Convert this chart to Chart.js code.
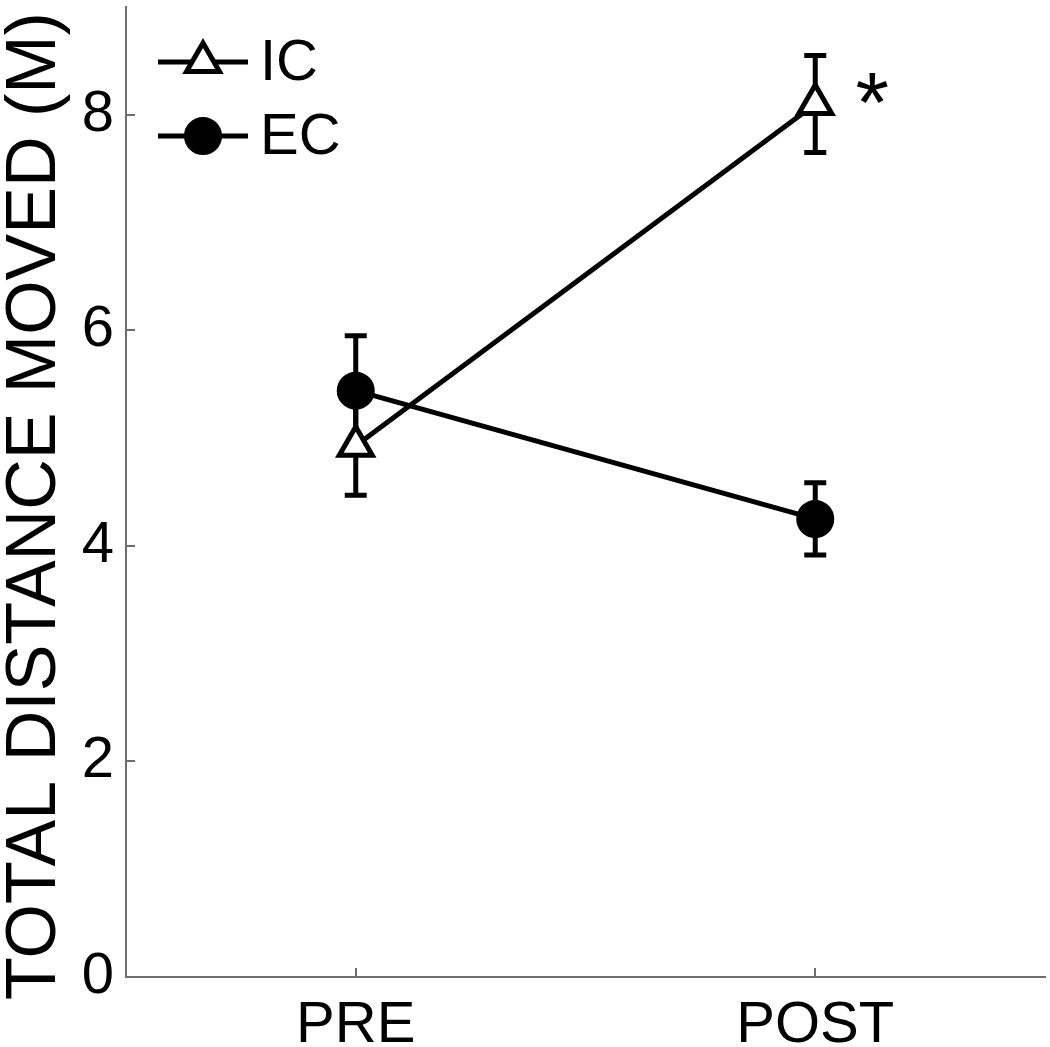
<!DOCTYPE html>
<html>
<head>
<meta charset="utf-8">
<script src="https://cdn.jsdelivr.net/npm/chart.js@4"></script>
<style>
  html, body { margin: 0; padding: 0; background: #fff; }
  canvas { display: block; }
</style>
</head>
<body>
<canvas id="chart" width="1050" height="1047"></canvas>
<script>
const phases = ['PRE', 'POST'];
const phaseX = [1, 2];
const icMeans = [4.93, 8.10];
const icErrors = [0.46, 0.45];
const ecMeans = [5.44, 4.25];
const ecErrors = [0.51, 0.335];
const yTicks = [0, 2, 4, 6, 8];
const seriesNames = ['IC', 'EC'];
const yTitle = 'TOTAL DISTANCE MOVED (M)';

const FONT = "'Liberation Sans', Arial, sans-serif";
const AXIS_GREY = '#6e6e6e';
const LW = 5;

const toPoints = (means) => means.map((m, i) => ({x: phaseX[i], y: m}));

// no label overhang padding, keep the plot box where the figure has it
const noPad = (scale) => {
  scale.paddingTop = 0; scale.paddingBottom = 0;
  scale.paddingLeft = 0; scale.paddingRight = 0;
};

const errorBars = {
  id: 'errorBars',
  beforeDatasetsDraw(chart) {
    const ctx = chart.ctx;
    const xs = chart.scales.x, ys = chart.scales.y;
    const groups = [[icMeans, icErrors], [ecMeans, ecErrors]];
    ctx.save();
    ctx.strokeStyle = '#000';
    ctx.lineWidth = LW;
    groups.forEach(([means, errs]) => {
      means.forEach((m, i) => {
        const px = xs.getPixelForValue(phaseX[i]);
        const top = ys.getPixelForValue(m + errs[i]);
        const bot = ys.getPixelForValue(m - errs[i]);
        ctx.beginPath();
        ctx.moveTo(px, top); ctx.lineTo(px, bot);
        ctx.moveTo(px - 11, top); ctx.lineTo(px + 11, top);
        ctx.moveTo(px - 11, bot); ctx.lineTo(px + 11, bot);
        ctx.stroke();
      });
    });
    ctx.restore();
  }
};

const extras = {
  id: 'extras',
  afterDraw(chart) {
    const ctx = chart.ctx;
    const xs = chart.scales.x, ys = chart.scales.y;
    const area = chart.chartArea;
    ctx.save();

    // inward tick marks
    ctx.strokeStyle = AXIS_GREY;
    ctx.lineWidth = 2;
    ctx.beginPath();
    yTicks.forEach(v => {
      if (v === 0) return;
      const py = Math.round(ys.getPixelForValue(v));
      ctx.moveTo(area.left, py); ctx.lineTo(area.left + 9, py);
    });
    phaseX.forEach(v => {
      const px = Math.round(xs.getPixelForValue(v));
      ctx.moveTo(px, area.bottom); ctx.lineTo(px, area.bottom - 9);
    });
    ctx.stroke();

    // y title
    ctx.save();
    ctx.translate(36, (area.top + area.bottom) / 2 + 14);
    ctx.rotate(-Math.PI / 2);
    ctx.fillStyle = '#000';
    ctx.font = `70px ${FONT}`;
    ctx.textAlign = 'center';
    ctx.textBaseline = 'middle';
    ctx.fillText(yTitle, 0, 0);
    ctx.restore();

    // legend: line - marker - line
    chart.data.datasets.forEach((ds, i) => {
      const ly = area.top + 55 + i * 74;
      const lx0 = area.left + 32, lx1 = area.left + 122;
      ctx.strokeStyle = '#000';
      ctx.lineWidth = LW;
      ctx.beginPath();
      ctx.moveTo(lx0, ly); ctx.lineTo(lx1, ly);
      ctx.stroke();
      ctx.fillStyle = ds.pointBackgroundColor;
      ctx.strokeStyle = '#000';
      ctx.lineWidth = ds.pointBorderWidth;
      Chart.helpers.drawPoint(ctx, {
        pointStyle: ds.pointStyle,
        radius: ds.pointRadius,
        rotation: 0,
        borderWidth: ds.pointBorderWidth
      }, (lx0 + lx1) / 2, ly);
      ctx.fillStyle = '#000';
      ctx.font = `58px ${FONT}`;
      ctx.textAlign = 'left';
      ctx.textBaseline = 'middle';
      ctx.fillText(seriesNames[i], lx1 + 12, ly + 2);
    });

    // significance marker next to IC POST
    const sx = xs.getPixelForValue(phaseX[1]) + 57;
    const sy = ys.getPixelForValue(icMeans[1]) - 10;
    ctx.font = `86px ${FONT}`;
    ctx.textAlign = 'center';
    ctx.textBaseline = 'alphabetic';
    ctx.fillText('*', sx, sy + 0.44 * 86);

    ctx.restore();
  }
};

new Chart(document.getElementById('chart'), {
  type: 'line',
  data: {
    datasets: [
      {
        label: seriesNames[0],
        data: toPoints(icMeans),
        borderColor: '#000',
        borderWidth: LW,
        pointStyle: 'triangle',
        pointRadius: 19,
        pointBackgroundColor: '#fff',
        pointBorderColor: '#000',
        pointBorderWidth: LW,
        clip: false,
        order: 2
      },
      {
        label: seriesNames[1],
        data: toPoints(ecMeans),
        borderColor: '#000',
        borderWidth: LW,
        pointStyle: 'circle',
        pointRadius: 16.5,
        pointBackgroundColor: '#000',
        pointBorderColor: '#000',
        pointBorderWidth: LW,
        clip: false,
        order: 1
      }
    ]
  },
  options: {
    responsive: false,
    animation: false,
    devicePixelRatio: 1,
    layout: { autoPadding: false, padding: { top: 7, right: 5, left: 0, bottom: 0 } },
    plugins: {
      legend: { display: false },
      tooltip: { enabled: false }
    },
    scales: {
      x: {
        type: 'linear',
        min: 0.5,
        max: 2.5,
        afterBuildTicks(scale) { scale.ticks = phaseX.map(v => ({value: v})); },
        afterFit(scale) { scale.height = 70; noPad(scale); },
        grid: { display: false, drawTicks: false },
        border: { color: AXIS_GREY, width: 2 },
        ticks: {
          color: '#000',
          padding: 14,
          maxRotation: 0,
          font: { family: FONT, size: 58 },
          callback: (v) => phases[phaseX.indexOf(v)] || ''
        }
      },
      y: {
        type: 'linear',
        min: 0,
        max: 9,
        afterBuildTicks(scale) { scale.ticks = yTicks.map(v => ({value: v})); },
        afterFit(scale) { scale.width = 126; noPad(scale); },
        grid: { display: false, drawTicks: false },
        border: { color: AXIS_GREY, width: 2 },
        ticks: {
          color: '#000',
          padding: 12,
          font: { family: FONT, size: 58 }
        }
      }
    }
  },
  plugins: [errorBars, extras]
});
</script>
</body>
</html>
